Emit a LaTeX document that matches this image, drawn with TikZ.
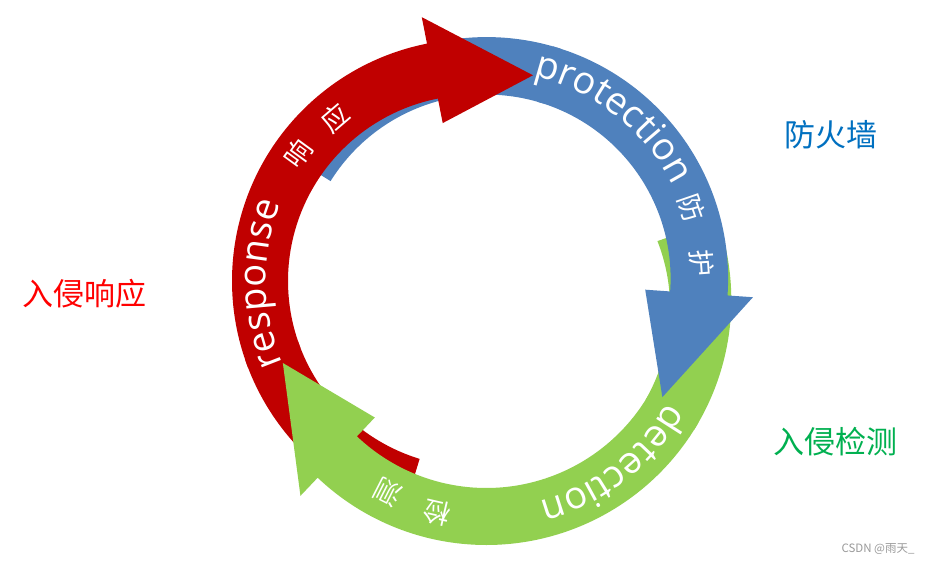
\documentclass[tikz,border=0pt]{standalone}
\usepackage{fontspec}
\setmainfont{Open Sans}
\newfontfamily\cjk{Noto Sans CJK SC}
\usetikzlibrary{decorations.text}
\definecolor{cred}{HTML}{C00000}
\definecolor{cblue}{HTML}{4F81BD}
\definecolor{cgreen}{HTML}{92D050}
\definecolor{lred}{HTML}{FF0000}
\definecolor{lblue}{HTML}{0070C0}
\definecolor{lgreen}{HTML}{00B050}
\definecolor{lgray}{HTML}{9A9A9A}
\tikzset{
  chs/.style={text=white, font=\cjk\fontsize{27}{27}\selectfont, inner sep=0pt},
  lbl/.style={font=\cjk\fontsize{31}{31}\selectfont, inner sep=0pt},
  arctext/.style={decorate, decoration={text along path, text align=center, text color=white,
     text={|\fontsize{38}{38}\selectfont|#1}}}
}
\begin{document}
\begin{tikzpicture}[x=1pt,y=1pt]
\useasboundingbox (0,0) rectangle (937,566);
\fill[white] (0,0) rectangle (937,566);

% ---- layer 1: tails (under the previous arrow)
\begin{scope}[shift={(474,285)}]
  \fill[cred] (253:242) arc[start angle=253,end angle=199,radius=242]
    -- (199:186) arc[start angle=199,end angle=253,radius=186] -- cycle;
\end{scope}
\begin{scope}[shift={(486.6,287.4)}]
  \fill[cblue] (148:241.5) arc[start angle=148,end angle=72,radius=241.5]
    -- (72:184) arc[start angle=72,end angle=148,radius=184] -- cycle;
\end{scope}
\begin{scope}[shift={(486.3,266)}]
  \fill[cgreen] (19:245) arc[start angle=19,end angle=-32,radius=245]
    -- plot[domain=-32:19,samples=40] ({(188-7*(\x+32)/51)*cos(\x)},{(188-7*(\x+32)/51)*sin(\x)}) -- cycle;
\end{scope}

% ---- layer 2: bodies and heads
\begin{scope}[shift={(474,285)}]
  \fill[cred] (201:242) arc[start angle=201,end angle=101.2,radius=242]
    -- (101.2:269) -- (74:214) -- (101.2:161)
    -- (101.2:186) arc[start angle=101.2,end angle=201,radius=186] -- cycle;
\end{scope}
\begin{scope}[shift={(486.6,287.4)}]
  \fill[cblue] (74:241.5) arc[start angle=74,end angle=-4,radius=241.5]
    -- (-4:267) -- (-34:212) -- (-4:159)
    -- (-4:184) arc[start angle=-4,end angle=74,radius=184] -- cycle;
\end{scope}
\begin{scope}[shift={(486.3,266)}]
  \fill[cgreen] (-30:245) arc[start angle=-30,end angle=-133.5,radius=245]
    -- (-133.5:270) -- (-162.8:213) -- (-133.5:162)
    -- (-133.5:188) arc[start angle=-133.5,end angle=-30,radius=188] -- cycle;
\end{scope}

% ---- texts on the arrows
\begin{scope}[shift={(474,285)}]
  \path[arctext=response] (210.75:208) arc[start angle=210.75,end angle=150.75,radius=208];
  \node[chs,rotate=54] (xiang) at (144:217) {响};
  \node[chs,rotate=40.5] (ying) at (130.5:214) {应};
\end{scope}
\begin{scope}[shift={(486.6,287.4)}]
  \path[arctext=protection] (81.8:208) arc[start angle=81.8,end angle=21.8,radius=208];
  \node[chs,rotate=-71] (fang) at (19:217) {防};
  \node[chs,rotate=-85.9] (hu) at (4.1:216) {护};
\end{scope}
\begin{scope}[shift={(486.3,266)}]
  \path[arctext=detection] (-22.4:208) arc[start angle=-22.4,end angle=-82.4,radius=208];
  \node[chs,rotate=167] (jian) at (-103:218.6) {检};
  \node[chs,rotate=153] (ce) at (-117.1:215.7) {测};
\end{scope}

% ---- side labels
\node[lbl,text=lred] (resp) at (84.5,272) {入侵响应};
\node[lbl,text=lblue] (fw) at (831,431) {防火墙};
\node[lbl,text=lgreen] (ids) at (835.5,124) {入侵检测};
\node[font=\cjk\fontsize{11.5}{11.5}\selectfont,text=lgray,inner sep=0pt] (wm) at (878,16.5) {CSDN @雨天\_};
\end{tikzpicture}
\end{document}
